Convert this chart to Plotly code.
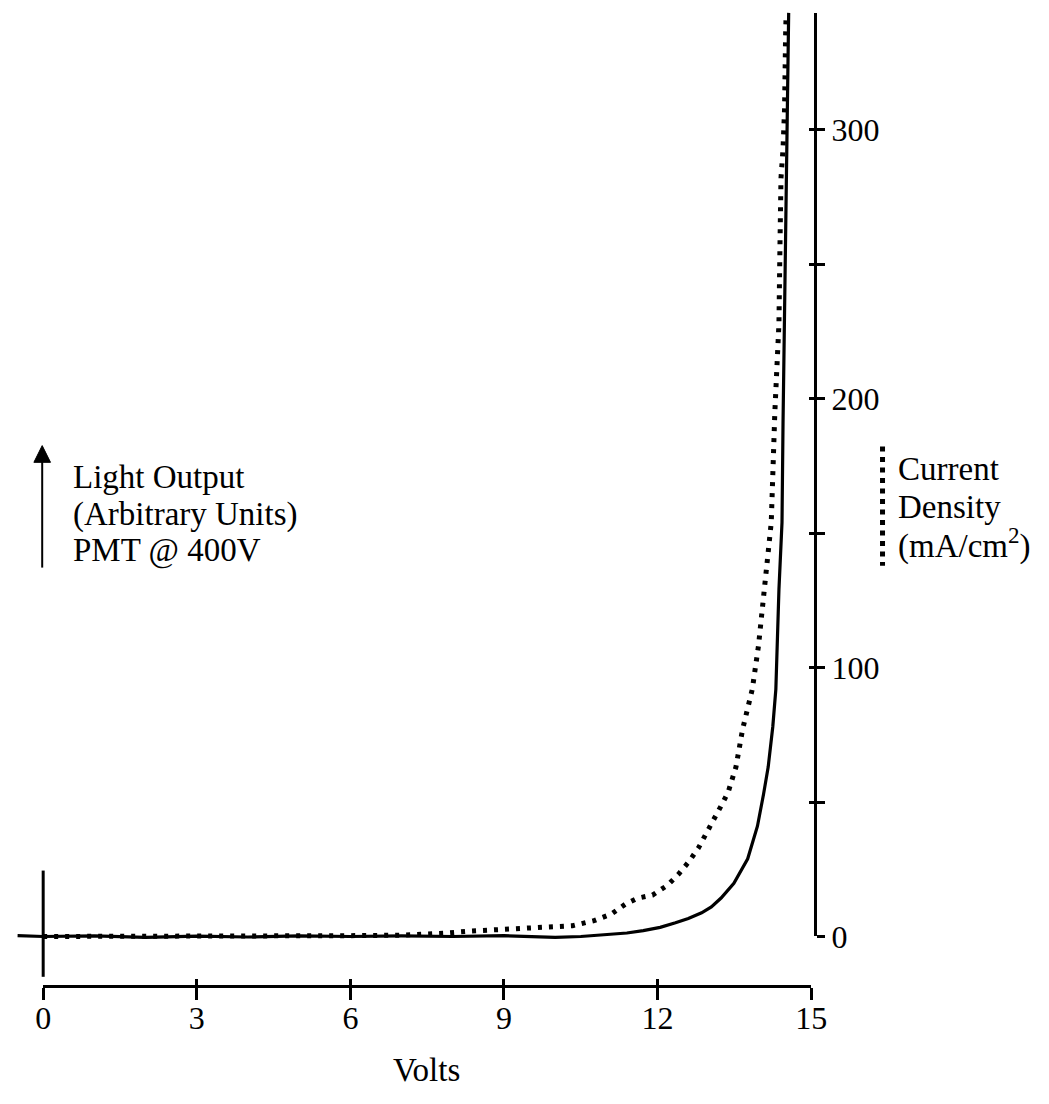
import plotly.graph_objects as go

# ---------------- data ----------------
light_volts = [-0.5, 0, 1, 2, 3, 4, 5, 6, 7, 8, 9, 10, 10.5, 11.09, 11.4, 11.72, 12.05,
               12.35, 12.6, 12.86, 13.05, 13.24, 13.49, 13.76, 13.95, 14.07, 14.16, 14.25,
               14.31, 14.37, 14.43, 14.45, 14.48, 14.53, 14.56]
light_output = [0.3, 0, 0.2, -0.3, 0.1, -0.2, 0.2, 0, 0.2, 0, 0.3, -0.3, 0, 0.7, 1.3, 2.2, 3.4,
                5.1, 6.7, 8.8, 11, 14.3, 19.8, 28.9, 41, 53, 63, 78,
                92, 129, 154, 191, 228, 290, 343.5]

current_volts = [0, 1, 2, 3, 4, 5, 6, 7, 7.5, 7.84, 8.34, 8.85, 9.48, 9.94, 10.34, 10.76,
                 11.1, 11.37, 11.62, 11.9, 12.19, 12.42, 12.61, 12.8, 12.96, 13.11, 13.28,
                 13.38, 13.47, 13.53, 13.66, 13.85, 13.97, 14.07, 14.15, 14.22, 14.29, 14.37,
                 14.39, 14.41, 14.45, 14.48, 14.50, 14.51]
current_density = [0, 0, 0, 0, 0.1, 0.2, 0.3, 0.5, 0.8, 1.2, 2.0, 2.6, 3.3, 3.5, 4.0, 5.9,
                   8.4, 12, 14.3, 15.4, 19, 23.4, 27.8, 33, 38.4, 43.9, 50,
                   53.8, 60.4, 63, 77, 92, 108, 125, 140, 154, 195, 228,
                   257, 282, 293, 308, 335, 343]

x_ticks = [0, 3, 6, 9, 12, 15]
y_major_step = 100
y_minor_step = 50

# ---------------- geometry ----------------
W, H = 1049, 1104
X0, X15 = 36, 822          # pixel positions of 0 V and 15 V
Y0, Y300 = 952, 132        # pixel positions of 0 and 300 on the right axis
YTOP = 13
XAXIS_PY = 1002
YAXIS_PX = 826
kx = (X15 - X0) / 15.0
ky = (Y0 - Y300) / 300.0

FONT = "Liberation Serif, Times New Roman, serif"
fs_tick = 32
fs_text = 33


def px(x):
    return x / W


def py(y):
    return 1 - y / H


fig = go.Figure()
fig.add_trace(go.Scatter(x=light_volts, y=light_output, mode="lines",
                         line=dict(color="black", width=3.2), showlegend=False,
                         hoverinfo="skip"))
fig.add_trace(go.Scatter(x=current_volts, y=current_density, mode="lines",
                         line=dict(color="black", width=5, dash="4px,7px"),
                         showlegend=False, hoverinfo="skip"))
# dummy traces so the visible axes render as their own subplots
fig.add_trace(go.Scatter(x=[None], y=[None], xaxis="x2", yaxis="y2", showlegend=False))
fig.add_trace(go.Scatter(x=[None], y=[None], xaxis="x3", yaxis="y3", showlegend=False))

common_axis = dict(showgrid=False, zeroline=False, linecolor="black", linewidth=3,
                   tickcolor="black", tickwidth=3,
                   tickfont=dict(family=FONT, size=fs_tick, color="black"))

xdom = [px(X0), px(X15)]
ydom = [py(Y0), py(YTOP)]
yrange = [0, (Y0 - YTOP) / ky]

fig.update_layout(
    width=W, height=H, margin=dict(l=0, r=0, t=0, b=0),
    paper_bgcolor="white", plot_bgcolor="rgba(0,0,0,0)",
    showlegend=False,
    xaxis=dict(domain=[0, 1], range=[-X0 / kx, (W - X0) / kx], visible=False),
    yaxis=dict(domain=[0, 1], range=[-(H - Y0) / ky, Y0 / ky], visible=False),
    # visible voltage axis (outside part of ticks + labels)
    xaxis2=dict(domain=xdom, range=[0, 15], anchor="free", position=py(XAXIS_PY),
                showline=True, ticks="outside", ticklen=12, tickvals=x_ticks,
                ticktext=[str(v) for v in x_ticks], ticklabelstandoff=-9, **common_axis),
    yaxis2=dict(domain=ydom, range=yrange, anchor="free", position=px(YAXIS_PX),
                side="right", showline=True, ticks="outside", ticklen=8,
                tick0=0, dtick=y_major_step,
                minor=dict(tick0=0, dtick=y_minor_step, ticks="outside", ticklen=8,
                           tickwidth=3, tickcolor="black"),
                **common_axis),
    # inner part of the crossing ticks
    xaxis3=dict(domain=xdom, range=[0, 15], anchor="free", position=py(XAXIS_PY),
                showline=False, ticks="inside", ticklen=7, tickvals=x_ticks,
                showticklabels=False, **common_axis),
    yaxis3=dict(domain=ydom, range=yrange, anchor="free", position=px(YAXIS_PX),
                side="right", showline=False, ticks="inside", ticklen=6,
                tick0=0, dtick=y_minor_step, showticklabels=False, **common_axis),
)

# short vertical reference line at 0 V
fig.add_shape(type="line", xref="x", yref="y", x0=0, x1=0,
              y0=(Y0 - 885) / ky, y1=(Y0 - 993) / ky,
              line=dict(color="black", width=3))

# Light output arrow (shaft + head) + label
AX, AY_TIP, AY_TAIL = 35, 453, 577
fig.add_shape(type="line", xref="paper", yref="paper", x0=px(AX), x1=px(AX),
              y0=py(AY_TIP + 10), y1=py(AY_TAIL), line=dict(color="black", width=2))
fig.add_shape(type="path", xref="paper", yref="paper",
              path=f"M {px(AX)} {py(AY_TIP)} L {px(AX - 8.5)} {py(AY_TIP + 17)} "
                   f"L {px(AX + 8.5)} {py(AY_TIP + 17)} Z",
              fillcolor="black", line=dict(color="black", width=1))
for txt, yc in [("Light Output", 485), ("(Arbitrary Units)", 523), ("PMT @ 400V", 560)]:
    fig.add_annotation(xref="paper", yref="paper", x=px(64), y=py(yc), xanchor="left",
                       yanchor="middle", align="left", showarrow=False, text=txt,
                       font=dict(family=FONT, size=fs_text, color="black"))

# Current density legend
fig.add_shape(type="line", xref="paper", yref="paper", x0=px(895), x1=px(895),
              y0=py(454), y1=py(575), line=dict(color="black", width=5, dash="5px,5.5px"))
for txt, yc in [("Current", 477), ("Density", 515), ("(mA/cm<sup>2</sup>)", 552)]:
    fig.add_annotation(xref="paper", yref="paper", x=px(909), y=py(yc), xanchor="left",
                       yanchor="middle", align="left", showarrow=False, text=txt,
                       font=dict(family=FONT, size=fs_text, color="black"))

# x axis title
fig.add_annotation(xref="paper", yref="paper", x=px(428), y=py(1088), xanchor="center",
                   yanchor="middle", showarrow=False, text="Volts",
                   font=dict(family=FONT, size=fs_text, color="black"))

fig.write_html("out.html")
